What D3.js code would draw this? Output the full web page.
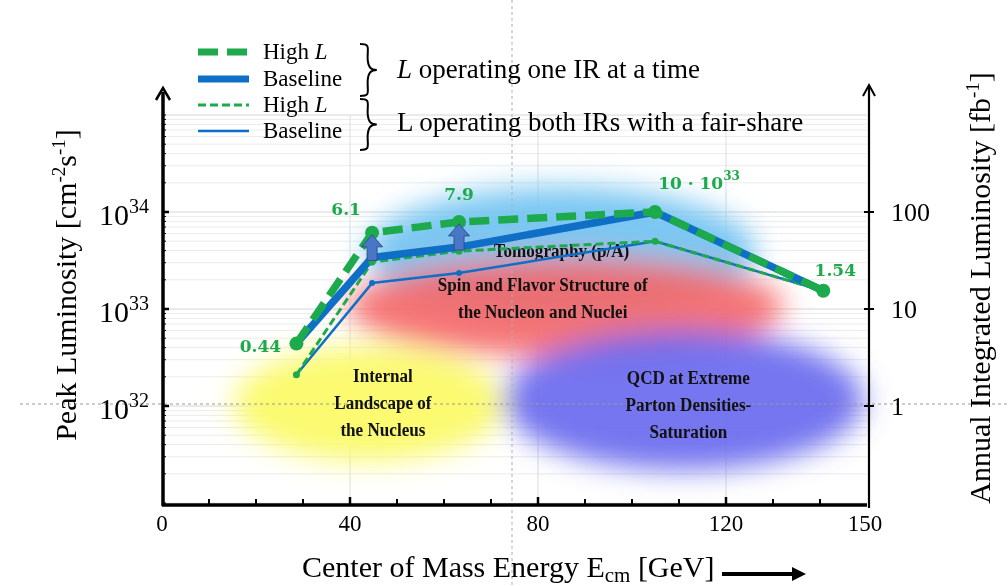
<!DOCTYPE html>
<html>
<head>
<meta charset="utf-8">
<script src="https://cdn.jsdelivr.net/npm/d3@7"></script>
<style>
  body { margin: 0; background: #fff; }
  svg { display: block; font-family: "Liberation Serif", "Times New Roman", serif; }
</style>
</head>
<body>
<div id="chartArea"></div>
<script>
// Data
const energy = [28.6, 44.7, 63.2, 104.9, 140.7];
const highL = [0.44e33, 6.1e33, 7.9e33, 10e33, 1.54e33];
const baseline = [0.44e33, 3.4e33, 4.35e33, 10e33, 1.54e33];
const highLShared = [0.21e33, 3.05e33, 3.95e33, 5e33, 1.54e33];
const baselineShared = [0.21e33, 1.85e33, 2.35e33, 5e33, 1.54e33];
const pointLabels = ["0.44", "6.1", "7.9", "10 \u00b7 10", "1.54"];

const xTicks = [0, 40, 80, 120, 150];
const leftTicks = [1e32, 1e33, 1e34];
const leftTickExp = ["32", "33", "34"];
const rightTicks = [1, 10, 100];

const regions = [
    { lines: ["Tomography (p/A)"], cx: 85, cy: 4.1e33 },
    { lines: ["Spin and Flavor Structure of", "the Nucleon and Nuclei"], cx: 81, cy: 1.3e33 },
    { lines: ["Internal", "Landscape of", "the Nucleus"], cx: 47, cy: 1.1e32 },
    { lines: ["QCD at Extreme", "Parton Densities-", "Saturation"], cx: 112, cy: 1.05e32 }
];

// Dimensions
const width = 1008, height = 586;
const green = "#1daa4c", blue = "#0f6fc6";

const x = d3.scaleLinear().domain([0, 150]).range([162, 867]);
const y = d3.scaleLog().domain([1e31, 1e35]).range([503, 115]);
const yRight = d3.scaleLog().domain([0.1, 1000]).range([503, 115]);

const svg = d3.select("#chartArea")
    .append("svg")
    .attr("width", width)
    .attr("height", height);

const defs = svg.append("defs");
defs.append("filter")
    .attr("id", "blur")
    .attr("x", "-50%").attr("y", "-50%").attr("width", "200%").attr("height", "200%")
    .append("feGaussianBlur")
    .attr("stdDeviation", 14);

// Grid
const grid = svg.append("g");
grid.selectAll("line.h")
    .data(y.ticks())
    .join("line")
    .attr("x1", x(0)).attr("x2", x(150))
    .attr("y1", d => y(d)).attr("y2", d => y(d))
    .attr("stroke", d => leftTicks.includes(d) || d === 1e35 ? "#d6d6d6" : "#ececec")
    .attr("stroke-width", 1);
grid.selectAll("line.v")
    .data([40, 80, 120])
    .join("line")
    .attr("x1", d => x(d)).attr("x2", d => x(d))
    .attr("y1", y(1e35)).attr("y2", y(1e31))
    .attr("stroke", "#dcdcdc");

// Blobs
const blobs = svg.append("g").attr("filter", "url(#blur)");
const blobData = [
    { cx: 85, cy: 3.8e33, rx: 195, ry: 66, fill: "#74c4f1", op: 0.95 },
    { cx: 86, cy: 1.05e33, rx: 218, ry: 50, fill: "#f56666", op: 0.9 },
    { cx: 44, cy: 1.05e32, rx: 135, ry: 57, fill: "#fbfa68", op: 0.95 },
    { cx: 111, cy: 1.15e32, rx: 180, ry: 70, fill: "#6666ee", op: 0.9 }
];
blobs.selectAll("ellipse")
    .data(blobData)
    .join("ellipse")
    .attr("cx", d => x(d.cx))
    .attr("cy", d => y(d.cy))
    .attr("rx", d => d.rx)
    .attr("ry", d => d.ry)
    .attr("fill", d => d.fill)
    .attr("opacity", d => d.op);

// crosshair dashes
svg.append("line")
    .attr("x1", 20).attr("x2", width)
    .attr("y1", y(1e32) - 2).attr("y2", y(1e32) - 2)
    .attr("stroke", "#9a9a9a").attr("stroke-dasharray", "3,3");
svg.append("line")
    .attr("x1", 512).attr("x2", 512)
    .attr("y1", 0).attr("y2", height)
    .attr("stroke", "#b0b0b0").attr("stroke-dasharray", "3,3");

// Region texts
const regionText = svg.append("g")
    .attr("font-weight", "bold")
    .attr("font-size", 19)
    .attr("text-anchor", "middle")
    .attr("fill", "#111");
regions.forEach(r => {
    const t = regionText.append("text")
        .attr("transform", `translate(${x(r.cx)},${y(r.cy) - (r.lines.length - 1) * 13.5 + 7}) scale(0.9,1)`);
    r.lines.forEach((l, i) => {
        t.append("tspan")
            .attr("x", 0)
            .attr("dy", i === 0 ? 0 : 27)
            .text(l);
    });
});

// Lines
const pts = arr => energy.map((e, i) => [x(e), y(arr[i])]);
const line = d3.line();

const series = [
    { data: baselineShared, color: blue, w: 2.5, dash: null },
    { data: highLShared, color: green, w: 3, dash: "8,4" },
    { data: baseline, color: blue, w: 7.5, dash: null },
    { data: highL, color: green, w: 7.5, dash: "20,9" }
];
svg.append("g")
    .selectAll("path")
    .data(series)
    .join("path")
    .attr("d", d => line(pts(d.data)))
    .attr("fill", "none")
    .attr("stroke", d => d.color)
    .attr("stroke-width", d => d.w)
    .attr("stroke-dasharray", d => d.dash)
    .attr("stroke-linejoin", "round");

// Markers
svg.append("g")
    .selectAll("circle")
    .data(pts(baselineShared).slice(1, 3))
    .join("circle")
    .attr("cx", d => d[0]).attr("cy", d => d[1]).attr("r", 3)
    .attr("fill", blue);
svg.append("g")
    .selectAll("circle")
    .data(pts(highLShared).slice(0, 4))
    .join("circle")
    .attr("cx", d => d[0]).attr("cy", d => d[1]).attr("r", 3.5)
    .attr("fill", green);
svg.append("g")
    .selectAll("circle")
    .data(pts(highL))
    .join("circle")
    .attr("cx", d => d[0]).attr("cy", d => d[1]).attr("r", 7)
    .attr("fill", green);

// Up arrows baseline -> high L
const upArrow = (xc, y0, y1) => {
    const sw = 5, hw = 10.5, hh = 12;
    return `M${xc - sw},${y0} L${xc - sw},${y1 + hh} L${xc - hw},${y1 + hh} L${xc},${y1} L${xc + hw},${y1 + hh} L${xc + sw},${y1 + hh} L${xc + sw},${y0} Z`;
};
svg.append("g")
    .selectAll("path")
    .data([1, 2])
    .join("path")
    .attr("d", i => upArrow(x(energy[i]), y(baseline[i]) + 3, y(highL[i]) + 2))
    .attr("fill", "#4a76c8")
    .attr("stroke", "#2f528f")
    .attr("stroke-width", 1);

// Point labels
const labelOffsets = [[-36, 8], [-26, -18], [0, -22], [44, -23], [12, -15]];
const plabels = svg.append("g")
    .attr("font-family", "'DejaVu Serif', serif")
    .attr("font-weight", "bold")
    .attr("font-size", 17)
    .attr("fill", green)
    .attr("text-anchor", "middle");
pointLabels.forEach((l, i) => {
    const t = plabels.append("text")
        .attr("x", x(energy[i]) + labelOffsets[i][0])
        .attr("y", y(highL[i]) + labelOffsets[i][1])
        .text(l);
    if (i === 3) t.append("tspan").attr("dy", -9).attr("font-size", 12).text("33");
});

// Axes
const axes = svg.append("g").attr("stroke", "#000").attr("fill", "none");
// left
axes.append("line")
    .attr("x1", x(0) + 1).attr("x2", x(0) + 1)
    .attr("y1", y(1e31) + 3).attr("y2", 92)
    .attr("stroke-width", 3.5);
axes.append("path")
    .attr("d", `M${x(0) - 6},${100} L${x(0) + 1},${88} L${x(0) + 8},${100}`)
    .attr("stroke-width", 2.5);
axes.selectAll("line.lt")
    .data(leftTicks)
    .join("line")
    .attr("x1", x(0) + 1).attr("x2", x(0) + 7)
    .attr("y1", d => y(d)).attr("y2", d => y(d))
    .attr("stroke-width", 2.5);
axes.selectAll("line.lm")
    .data(y.ticks().filter(d => !leftTicks.includes(d)))
    .join("line")
    .attr("x1", x(0) + 1).attr("x2", x(0) + 4)
    .attr("y1", d => y(d)).attr("y2", d => y(d))
    .attr("stroke-width", 1);
// bottom
axes.append("line")
    .attr("x1", x(0)).attr("x2", x(150))
    .attr("y1", y(1e31) + 2).attr("y2", y(1e31) + 2)
    .attr("stroke-width", 3.5);
axes.selectAll("line.xt")
    .data(d3.range(10, 150, 10))
    .join("line")
    .attr("x1", d => x(d)).attr("x2", d => x(d))
    .attr("y1", y(1e31) + 2).attr("y2", d => y(1e31) - (d % 40 === 0 ? 6 : 4))
    .attr("stroke-width", d => d % 40 === 0 ? 2.5 : 2);
// right
const xr = x(150) + 2;
axes.append("line")
    .attr("x1", xr).attr("x2", xr)
    .attr("y1", y(1e31) + 5).attr("y2", 87)
    .attr("stroke-width", 2.2);
axes.append("path")
    .attr("d", `M${xr - 6},${96} L${xr},${85} L${xr + 6},${96}`)
    .attr("stroke-width", 2);
axes.selectAll("line.rt")
    .data(rightTicks)
    .join("line")
    .attr("x1", xr - 5).attr("x2", xr + 5)
    .attr("y1", d => yRight(d)).attr("y2", d => yRight(d))
    .attr("stroke-width", 2);

// Tick labels
const tl = svg.append("g").attr("fill", "#000");
tl.selectAll("text.x")
    .data(xTicks)
    .join("text")
    .attr("x", d => x(d) + (d === 150 ? -2 : 0))
    .attr("y", 531)
    .attr("text-anchor", "middle")
    .attr("font-size", 23)
    .text(d => d);
leftTicks.forEach((d, i) => {
    const t = tl.append("text")
        .attr("x", 149)
        .attr("y", y(d) + 13)
        .attr("text-anchor", "end")
        .attr("font-size", 30)
        .text("10");
    t.append("tspan").attr("dy", -12).attr("font-size", 20).text(leftTickExp[i]);
});
tl.selectAll("text.r")
    .data(rightTicks)
    .join("text")
    .attr("x", xr + 22)
    .attr("y", d => yRight(d) + 9)
    .attr("font-size", 26)
    .text(d => d);

// Axis titles
const yl = tl.append("text")
    .attr("transform", "translate(76,285) rotate(-90)")
    .attr("text-anchor", "middle")
    .attr("font-size", 30)
    .text("Peak Luminosity [cm");
yl.append("tspan").attr("dy", -11).attr("font-size", 19).text("-2");
yl.append("tspan").attr("dy", 11).text("s");
yl.append("tspan").attr("dy", -11).attr("font-size", 19).text("-1");
yl.append("tspan").attr("dy", 11).text("]");

const yr = tl.append("text")
    .attr("transform", "translate(990,288) rotate(-90)")
    .attr("text-anchor", "middle")
    .attr("font-size", 30)
    .text("Annual Integrated Luminosity [fb");
yr.append("tspan").attr("dy", -11).attr("font-size", 19).text("-1");
yr.append("tspan").attr("dy", 11).text("]");

const xl = tl.append("text")
    .attr("x", 302)
    .attr("y", 577)
    .attr("font-size", 30)
    .text("Center of Mass Energy E");
xl.append("tspan").attr("dy", 5).attr("font-size", 21).text("cm");
xl.append("tspan").attr("dy", -5).text(" [GeV]");
svg.append("line")
    .attr("x1", 722).attr("x2", 794)
    .attr("y1", 574).attr("y2", 574)
    .attr("stroke", "#000").attr("stroke-width", 4);
svg.append("path")
    .attr("d", "M792,567 L806,574 L792,581 Z")
    .attr("fill", "#000");

// Legend
const legendItems = [
    { color: green, w: 7, dash: "20,9", label: "High ", it: "L", y: 52 },
    { color: blue, w: 7, dash: null, label: "Baseline", it: "", y: 79 },
    { color: green, w: 3, dash: "8,4", label: "High ", it: "L", y: 105 },
    { color: blue, w: 2.5, dash: null, label: "Baseline", it: "", y: 131 }
];
const legend = svg.append("g").attr("id", "legend");
legend.selectAll("line")
    .data(legendItems)
    .join("line")
    .attr("x1", 198).attr("x2", 249)
    .attr("y1", d => d.y).attr("y2", d => d.y)
    .attr("stroke", d => d.color)
    .attr("stroke-width", d => d.w)
    .attr("stroke-dasharray", d => d.dash);
legendItems.forEach(d => {
    const t = legend.append("text")
        .attr("x", 263).attr("y", d.y + 7)
        .attr("font-size", 23)
        .text(d.label);
    if (d.it) t.append("tspan").attr("font-style", "italic").text(d.it);
});
const brace = (xb, yTop, yBot) => {
    const ym = (yTop + yBot) / 2, w = 14;
    return `M${xb},${yTop} C${xb + w * 0.8},${yTop} ${xb + w * 0.5},${yTop + 4} ${xb + w * 0.55},${ym - 10}
            C${xb + w * 0.6},${ym - 3} ${xb + w * 0.75},${ym} ${xb + w * 1.2},${ym}
            C${xb + w * 0.75},${ym} ${xb + w * 0.6},${ym + 3} ${xb + w * 0.55},${ym + 10}
            C${xb + w * 0.5},${yBot - 4} ${xb + w * 0.8},${yBot} ${xb},${yBot}`;
};
legend.selectAll("path")
    .data([[44, 96], [99, 150]])
    .join("path")
    .attr("d", d => brace(360, d[0], d[1]))
    .attr("fill", "none")
    .attr("stroke", "#000")
    .attr("stroke-width", 2);
const g1 = legend.append("text").attr("x", 397).attr("y", 78).attr("font-size", 27);
g1.append("tspan").attr("font-style", "italic").text("L");
g1.append("tspan").text(" operating one IR at a time");
legend.append("text").attr("x", 397).attr("y", 131).attr("font-size", 27)
    .text("L operating both IRs with a fair-share");
</script>
</body>
</html>
